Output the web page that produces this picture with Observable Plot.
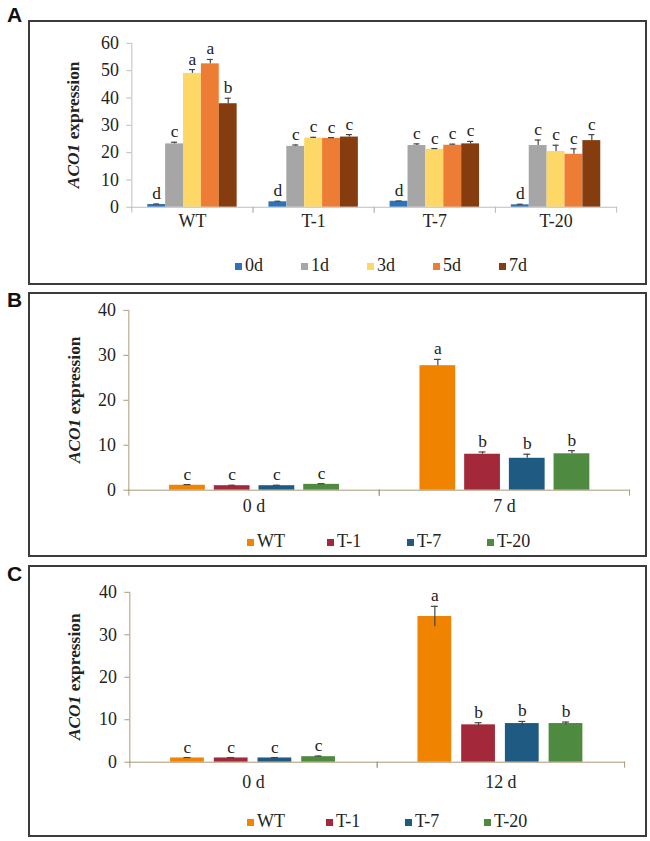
<!DOCTYPE html>
<html>
<head>
<meta charset="utf-8">
<script src="https://cdn.jsdelivr.net/npm/d3@7"></script>
<script src="https://cdn.jsdelivr.net/npm/@observablehq/plot@0.6"></script>
<style>
  html, body { margin: 0; padding: 0; background: #fff; }
  body { width: 650px; height: 841px; position: relative; overflow: hidden; font-family: "Liberation Serif", "Times New Roman", serif; color: #222; }
  .panel { position: absolute; left: 28px; width: 619px; box-sizing: border-box; border: 2px solid #3c3c3c; }
  .panel svg { position: absolute; left: -2px; top: -2px; }
  .panel svg text { font-family: "Liberation Serif", "Times New Roman", serif; }
  .tag { position: absolute; left: 7px; font: bold 21px "Liberation Sans", Arial, sans-serif; line-height: 1; color: #111; }
  .legend { position: absolute; display: flex; font-size: 18px; line-height: 1; }
  .legend .item { display: flex; align-items: center; }
  .legend .sw { width: 7px; height: 7px; margin-right: 3px; margin-top: 2px; }
</style>
</head>
<body>
<div class="tag" style="top:4px">A</div>
<div class="tag" style="top:289px">B</div>
<div class="tag" style="top:563px">C</div>
<div class="panel" id="pA" style="top:20px;height:265px"></div>
<div class="panel" id="pB" style="top:292px;height:265px"></div>
<div class="panel" id="pC" style="top:565px;height:272px"></div>
<script>
// ---------- Panel A data ----------
const groupsA = ["WT", "T-1", "T-7", "T-20"];
const daysA = ["0d", "1d", "3d", "5d", "7d"];
const colorsA = ["#2e72b8", "#a6a6a6", "#fdd867", "#ed7d34", "#853c0f"];
const meanA_WT  = [1.0, 23.2, 49.0, 52.5, 37.9];
const meanA_T1  = [2.0, 22.3, 25.3, 25.2, 25.7];
const meanA_T7  = [2.2, 22.6, 21.2, 22.7, 23.2];
const meanA_T20 = [0.9, 22.6, 20.4, 19.4, 24.4];
const errA_WT  = [0.2, 0.6, 1.4, 1.6, 2.0];
const errA_T1  = [0.2, 0.5, 0.3, 0.3, 0.9];
const errA_T7  = [0.1, 0.6, 0.3, 0.4, 0.9];
const errA_T20 = [0.2, 2.0, 2.3, 2.0, 2.2];
const letA_WT  = ["d", "c", "a", "a", "b"];
const letA_T1  = ["d", "c", "c", "c", "c"];
const letA_T7  = ["d", "c", "c", "c", "c"];
const letA_T20 = ["d", "c", "c", "c", "c"];
const ticksA = [0, 10, 20, 30, 40, 50, 60];

// ---------- Panels B and C data ----------
const linesBC = ["WT", "T-1", "T-7", "T-20"];
const colorsBC = ["#f08300", "#a3293a", "#1e5a82", "#4e8a3f"];
const condsB = ["0 d", "7 d"];
const meanB_0 = [1.1, 1.0, 1.0, 1.3];
const meanB_7 = [27.7, 8.0, 7.1, 8.1];
const errB_0 = [0.15, 0.1, 0.1, 0.15];
const errB_7 = [1.4, 0.5, 0.9, 0.7];
const letB_0 = ["c", "c", "c", "c"];
const letB_7 = ["a", "b", "b", "b"];
const condsC = ["0 d", "12 d"];
const meanC_0 = [1.0, 1.0, 1.0, 1.3];
const meanC_12 = [34.3, 8.8, 9.1, 9.1];
const errC_0 = [0.1, 0.1, 0.1, 0.15];
const errC_12 = [2.4, 0.5, 0.5, 0.35];
const letC_0 = ["c", "c", "c", "c"];
const letC_12 = ["a", "b", "b", "b"];
const ticksBC = [0, 10, 20, 30, 40];

function rows(facets, keys, means, errs, lets) {
  const out = [];
  facets.forEach((f, i) => keys.forEach((k, j) => out.push({f, k, v: means[i][j], e: errs[i][j], l: lets[i][j]})));
  return out;
}

const dataA = rows(groupsA, daysA, [meanA_WT, meanA_T1, meanA_T7, meanA_T20], [errA_WT, errA_T1, errA_T7, errA_T20], [letA_WT, letA_T1, letA_T7, letA_T20]);
const dataB = rows(condsB, linesBC, [meanB_0, meanB_7], [errB_0, errB_7], [letB_0, letB_7]);
const dataC = rows(condsC, linesBC, [meanC_0, meanC_12], [errC_0, errC_12], [letC_0, letC_12]);

const FONT = "'Liberation Serif', 'Times New Roman', serif";
const FS = 18;

function chart(cfg) {
  const frameH = cfg.height - cfg.mt - cfg.mb;
  const lowEnd = cfg.both ? (d => d.v - d.e) : (d => d.v);
  const marks = [
    Plot.barY(cfg.data, {fx: "f", x: "k", y: "v", fill: "k", inset: 0}),
    Plot.ruleX(cfg.data, {fx: "f", x: "k", y1: lowEnd, y2: d => d.v + d.e, stroke: "#454545", strokeWidth: 1.2}),
    Plot.tickY(cfg.data, {fx: "f", x: "k", y: d => d.v + d.e, stroke: "#454545", strokeWidth: 1.2, insetLeft: cfg.capInset, insetRight: cfg.capInset}),
    Plot.text(cfg.data, {fx: "f", x: "k", y: d => d.v + d.e, text: "l", lineAnchor: "bottom", dy: -5, fontSize: 17.5, fontFamily: FONT, fill: "#222"}),
    Plot.frame({anchor: "bottom", facet: "super", stroke: cfg.axisColor}),
    Plot.frame({anchor: "left", facet: "super", stroke: cfg.axisColor}),
    Plot.frame({anchor: "left", insetTop: frameH, insetBottom: -5, stroke: cfg.axisColor}),
    Plot.frame({anchor: "right", insetTop: frameH, insetBottom: -5, stroke: cfg.axisColor}),
    Plot.axisY({ticks: cfg.ticks, tickSize: 5, tickPadding: 8, stroke: cfg.axisColor, fill: "#222", fontSize: FS, fontFamily: FONT, label: null}),
    Plot.axisFx({anchor: "bottom", tickSize: 0, tickPadding: cfg.labelPad, fill: "#222", fontSize: FS, fontFamily: FONT, label: null})
  ];
  const svg = Plot.plot({
    width: cfg.width, height: cfg.height,
    marginLeft: cfg.ml, marginRight: cfg.mr, marginTop: cfg.mt, marginBottom: cfg.mb,
    style: {fontFamily: FONT, fontSize: FS + "px", color: "#222", background: "transparent", overflow: "visible"},
    fx: {domain: cfg.facets, paddingInner: 0, paddingOuter: 0, label: null},
    x: {domain: cfg.keys, paddingInner: cfg.pi, paddingOuter: cfg.po, axis: null},
    y: {domain: cfg.yDomain, label: null},
    color: {domain: cfg.keys, range: cfg.colors},
    marks
  });
  // y-axis title with italic gene name
  const yr = svg.scale("y").range;
  const cy = (yr[0] + yr[1]) / 2;
  const t = d3.select(svg).append("text")
    .attr("transform", `translate(${cfg.titleX},${cy}) rotate(-90)`)
    .attr("text-anchor", "middle")
    .attr("font-family", FONT)
    .attr("font-size", 17.5)
    .attr("font-weight", "bold")
    .attr("fill", "#222");
  t.append("tspan").attr("font-style", "italic").text("ACO1");
  t.append("tspan").text(" expression");
  return svg;
}

function legend(panel, keys, colors, left, top, itemW) {
  const lg = document.createElement("div");
  lg.className = "legend";
  lg.style.left = left + "px";
  lg.style.top = top + "px";
  keys.forEach((k, i) => {
    const it = document.createElement("div");
    it.className = "item";
    it.style.width = itemW + "px";
    const sw = document.createElement("span");
    sw.className = "sw";
    sw.style.background = colors[i];
    const tx = document.createElement("span");
    tx.textContent = k;
    it.appendChild(sw); it.appendChild(tx);
    lg.appendChild(it);
  });
  panel.appendChild(lg);
}

const pA = document.getElementById("pA");
pA.appendChild(chart({
  data: dataA, facets: groupsA, keys: daysA, colors: colorsA,
  width: 619, height: 235, ml: 102, mr: 26, mt: 23, mb: 47,
  pi: 0, po: 0.76, yDomain: [0, 60], ticks: ticksA, axisColor: "#bdbdbd",
  capInset: 6, labelPad: 7, titleX: 51, both: false
}));
legend(pA, daysA, colorsA, 205, 234, 66);

const pB = document.getElementById("pB");
pB.appendChild(chart({
  data: dataB, facets: condsB, keys: linesBC, colors: colorsBC,
  width: 619, height: 240, ml: 101, mr: 14, mt: 18, mb: 41,
  pi: 0.2, po: 0.88, yDomain: [0, 40], ticks: ticksBC, axisColor: "#a8987a",
  capInset: 14.5, labelPad: 9, titleX: 52, both: false
}));
legend(pB, linesBC, colorsBC, 217, 238, 80);

const pC = document.getElementById("pC");
pC.appendChild(chart({
  data: dataC, facets: condsC, keys: linesBC, colors: colorsBC,
  width: 619, height: 240, ml: 101, mr: 19, mt: 27, mb: 42,
  pi: 0.22, po: 0.9, yDomain: [0, 40], ticks: ticksBC, axisColor: "#a8987a",
  capInset: 13.5, labelPad: 13, titleX: 52, both: true
}));
legend(pC, linesBC, colorsBC, 217, 245, 79);
</script>
</body>
</html>
